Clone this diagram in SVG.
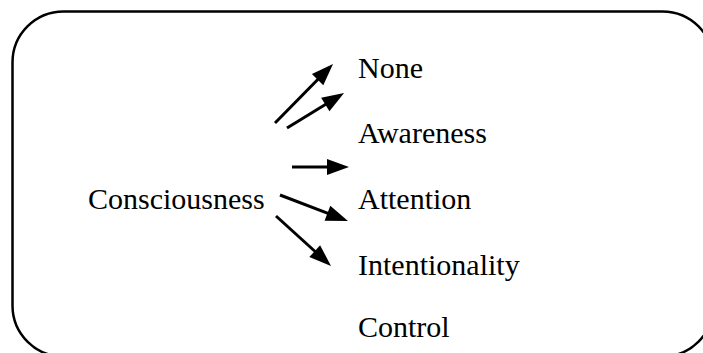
<svg xmlns="http://www.w3.org/2000/svg" width="703" height="353" viewBox="0 0 703 353">
<style>
.t{font-family:"Liberation Serif","Times New Roman",serif;font-size:30px;fill:#000}
.c{stroke:#000;stroke-width:3;fill:none}
</style>
<defs>
<marker id="ah" markerUnits="userSpaceOnUse" markerWidth="24" markerHeight="20" refX="0" refY="0" viewBox="-3 -10 24 20" orient="auto">
<path d="M-2,-8 L20,0 L-2,8 z" fill="#000"/>
</marker>
</defs>
<rect x="12.5" y="11.5" width="701" height="345" rx="51" ry="51" fill="#fff" stroke="#000" stroke-width="2.5"/>
<g id="consciousness"><text class="t" x="88" y="209">Consciousness</text></g>
<g id="none"><text class="t" x="358" y="78">None</text></g>
<g id="awareness"><text class="t" x="358" y="143">Awareness</text></g>
<g id="attention"><text class="t" x="358" y="209">Attention</text></g>
<g id="intentionality"><text class="t" x="358" y="275">Intentionality</text></g>
<g id="control"><text class="t" x="358" y="337">Control</text></g>
<g id="connectors">
<line class="c" x1="275" y1="123" x2="319" y2="78.3" marker-end="url(#ah)"/>
<line class="c" x1="287" y1="128" x2="327" y2="103.5" marker-end="url(#ah)"/>
<line class="c" x1="292" y1="167" x2="329" y2="167" marker-end="url(#ah)"/>
<line class="c" x1="280" y1="195" x2="329.3" y2="213.9" marker-end="url(#ah)"/>
<line class="c" x1="276" y1="216" x2="316.2" y2="252.5" marker-end="url(#ah)"/>
</g>
</svg>
